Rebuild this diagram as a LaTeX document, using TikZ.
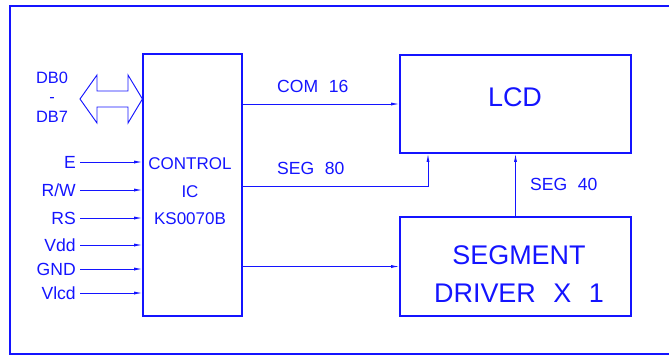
\documentclass[tikz,border=0pt]{standalone}
\usepackage{fontspec}
\setmainfont{Liberation Sans}
\usetikzlibrary{arrows.meta}
\definecolor{cadblue}{HTML}{1414FF}
\newcommand\busfont{\fontsize{15}{18}\selectfont\spaceskip=0.6em\relax}
\newcommand\bigfont{\fontsize{23}{32}\selectfont\spaceskip=0.65em\relax}

\begin{document}
\begin{tikzpicture}[x=0.03cm,y=-0.03cm,color=cadblue,
  blk/.style={draw,line width=1pt,inner sep=0pt},
  sig/.style={line width=0.8pt,-{Latex[length=7pt,width=2.6pt]}},
  pinlbl/.style={font=\fontsize{15}{18}\selectfont,inner sep=0pt},
  buslbl/.style={font=\busfont,inner sep=0pt},
  bigtxt/.style={font=\bigfont,align=center}]
  \useasboundingbox (0,0) rectangle (669,355);
  \draw[line width=1.2pt] (669,6) -- (10,6) -- (10,354) -- (669,354);

  \node[blk,minimum width=2.97cm,minimum height=7.86cm] (ic) at (192.5,185) {};
  \node[blk,minimum width=6.93cm,minimum height=2.94cm] (lcd) at (515.5,104) {};
  \node[blk,minimum width=6.93cm,minimum height=2.97cm] (drv) at (515.5,266.5) {};

  \node[align=center,font=\fontsize{14.5}{23.4}\selectfont] (ictxt) at (190,191.5) {CONTROL\\IC\\KS0070B};
  \node[bigtxt] (lcdtxt) at (515,97) {LCD};
  \node[bigtxt] (drvtxt) at (519,274) {SEGMENT\\DRIVER X 1};

  \node[align=center,font=\fontsize{14}{16.6}\selectfont] (db) at (52,97) {DB0\\-\\DB7};
  \draw[line width=0.8pt] (80,99) -- (97,75) -- (97,91) -- (128,91) -- (128,75)
    -- (ic.west |- 0,99) -- (128,123) -- (128,107) -- (97,107) -- (97,123) -- cycle;

  \foreach \name/\y [count=\i] in {E/162,{R/W}/190,RS/218,Vdd/245,GND/269,Vlcd/293} {
    \node[pinlbl,anchor=east] (n\i) at (76,\y) {\name};
    \coordinate (p\i) at (80,\y);
    \draw[sig] (p\i) -- (p\i -| ic.west);
  }

  \node[buslbl,anchor=west] (com) at (277,86) {COM 16};
  \draw[sig] (lcd.west -| ic.east) -- (lcd.west);

  \node[buslbl,anchor=west] (seg80) at (277,168) {SEG 80};
  \coordinate (s80) at (428,186);
  \draw[sig] (s80 -| ic.east) -- (s80) -- (s80 |- lcd.south);

  \node[buslbl,anchor=west] (seg40) at (530,184) {SEG 40};
  \draw[sig] (drv.north) -- (lcd.south);

  \draw[sig] (drv.west -| ic.east) -- (drv.west);
\end{tikzpicture}
\end{document}
